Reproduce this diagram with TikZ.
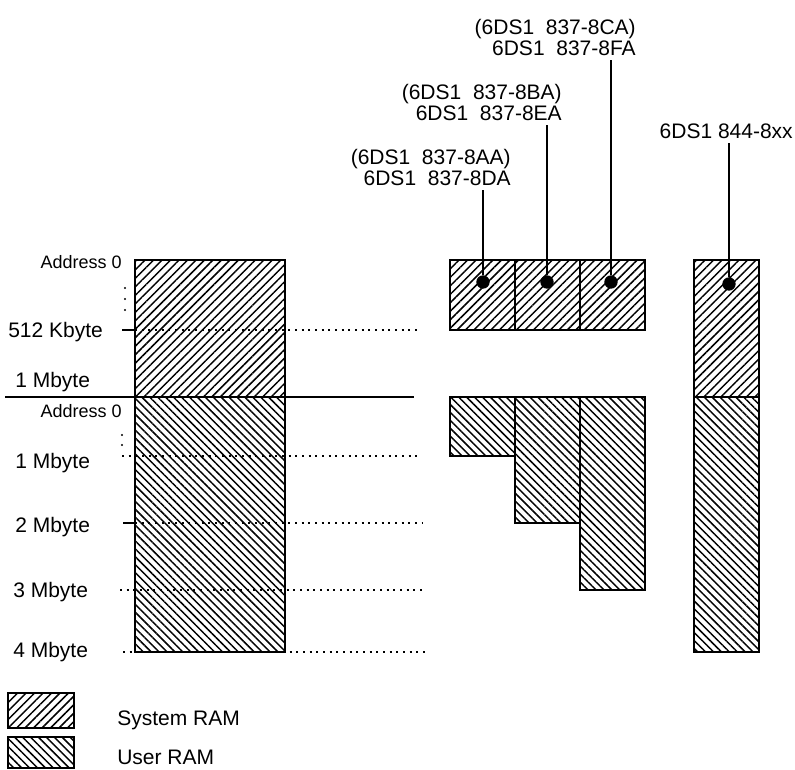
\documentclass[tikz,border=0pt]{standalone}
\usepackage{fontspec}
\setmainfont{Liberation Sans}
\usetikzlibrary{patterns.meta}
\tikzset{
  sysram/.style={draw, line width=1.4pt, pattern={Lines[angle=45,distance=4.5pt,line width=1.1pt]}},
  userram/.style={draw, line width=1.4pt, pattern={Lines[angle=-45,distance=4.2pt,line width=1.1pt]}},
  memlabel/.style={inner sep=0pt, font=\fontsize{15.75}{15.75}\selectfont},
  addrlabel/.style={inner sep=0pt, font=\fontsize{13.5}{13.5}\selectfont},
  partlabel/.style={inner sep=0pt, align=right, font=\fontsize{15.75}{15.75}\selectfont},
  socket/.style={circle, fill=black, inner sep=0pt, minimum size=10pt},
  levelline/.style={line width=1pt, dash pattern=on 1.5pt off 3.5pt},
  solidtick/.style={line width=1.1pt},
  vdot/.style={circle, fill=black, inner sep=0pt, minimum size=1.8pt}
}
\begin{document}
\begin{tikzpicture}[x=0.75pt,y=-0.75pt]
\useasboundingbox (0,0) rectangle (795,770);
% main memory column
\draw[sysram] (135,260) rectangle (285,397);
\draw[userram] (135,397) rectangle (285,652);
% modules 837
\draw[sysram] (450,260) rectangle (515,330);
\draw[sysram] (515,260) rectangle (580,330);
\draw[sysram] (580,260) rectangle (645,330);
\draw[userram] (450,397) rectangle (515,456);
\draw[userram] (515,397) rectangle (580,523);
\draw[userram] (580,397) rectangle (645,590);
% module 844
\draw[sysram] (694,260) rectangle (759,397);
\draw[userram] (694,397) rectangle (759,652);
% boundary between system and user area
\draw[line width=1.1pt] (5,397) -- (414,397);
% address marks
\node[addrlabel, anchor=base east] (adrsys) at (122,268) {Address 0};
\node[vdot] at (125,288) {};
\node[vdot] at (125,299) {};
\node[vdot] at (125,310) {};
\node[memlabel, anchor=base west] (kb512) at (8,337) {512 Kbyte};
\draw[solidtick] (122,330) -- (135,330);
\draw[levelline] (135,330) -- (418,330);
\node[memlabel, anchor=base west] (mb1sys) at (15,387) {1 Mbyte};
\node[addrlabel, anchor=base east] (adrusr) at (122,417) {Address 0};
\node[vdot] at (122,435) {};
\node[vdot] at (122,445) {};
\node[memlabel, anchor=base west] (mb1) at (15,468) {1 Mbyte};
\draw[levelline] (122,456) -- (418,456);
\node[memlabel, anchor=base west] (mb2) at (15,532) {2 Mbyte};
\draw[solidtick] (123,523) -- (135,523);
\draw[levelline] (135,523) -- (423,523);
\node[memlabel, anchor=base west] (mb3) at (13,597) {3 Mbyte};
\draw[levelline] (120,590) -- (423,590);
\node[memlabel, anchor=base west] (mb4) at (13,657) {4 Mbyte};
\draw[levelline] (123,652) -- (426,652);
% module order numbers
\node[socket] (sockA) at (483,282) {};
\node[socket] (sockB) at (547,282) {};
\node[socket] (sockC) at (611,282) {};
\node[socket] (sockX) at (729,284) {};
\node[partlabel, anchor=south east] (lblA) at (511,186) {(6DS1~~837-8AA)\\6DS1~~837-8DA};
\node[partlabel, anchor=south east] (lblB) at (562,121) {(6DS1~~837-8BA)\\6DS1~~837-8EA};
\node[partlabel, anchor=south east] (lblC) at (636,56) {(6DS1~~837-8CA)\\6DS1~~837-8FA};
\node[partlabel, anchor=south east] (lblX) at (793,139) {6DS1 844-8xx};
\draw[line width=1.1pt, shorten >=3pt] (sockA) -- (sockA |- lblA.south);
\draw[line width=1.1pt, shorten >=3pt] (sockB) -- (sockB |- lblB.south);
\draw[line width=1.1pt, shorten >=3pt] (sockC) -- (sockC |- lblC.south);
\draw[line width=1.1pt, shorten >=3pt] (sockX) -- (sockX |- lblX.south);
% legend
\draw[sysram] (8,693) rectangle (74,728);
\draw[userram] (8,737) rectangle (74,768);
\node[memlabel, anchor=base west] (legsys) at (117,725) {System RAM};
\node[memlabel, anchor=base west] (legusr) at (117,764) {User RAM};
\end{tikzpicture}
\end{document}
